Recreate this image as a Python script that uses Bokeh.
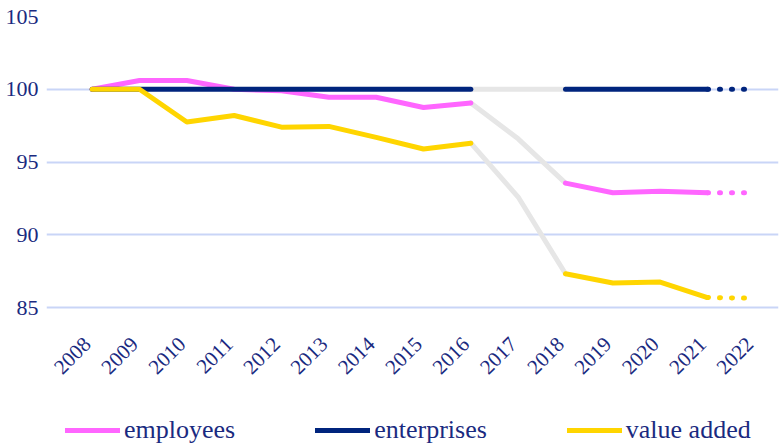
import math
from bokeh.plotting import figure
from bokeh.models import Range1d, Legend, LegendItem, FixedTicker, ColumnDataSource
from bokeh.core.properties import value
from bokeh.embed import file_html
from bokeh.resources import INLINE

# ---- data ----
years = [2008, 2009, 2010, 2011, 2012, 2013, 2014, 2015, 2016, 2017, 2018, 2019, 2020, 2021, 2022]
year_labels = ["2008", "2009", "2010", "2011", "2012", "2013", "2014", "2015", "2016",
               "2017", "2018", "2019", "2020", "2021", "2022"]
y_ticks = [85, 90, 95, 100, 105]

years_a = [2008, 2009, 2010, 2011, 2012, 2013, 2014, 2015, 2016]
years_gap = [2016, 2017, 2018]
years_b = [2018, 2019, 2020, 2021]
years_proj = [2021, 2022]

employees_a = [100.0, 100.6, 100.6, 100.0, 99.9, 99.45, 99.45, 98.75, 99.06]
employees_gap = [99.06, 96.6, 93.56]
employees_b = [93.56, 92.9, 93.0, 92.9]
employees_proj = [92.9, 92.9]

enterprises_a = [100.0, 100.0, 100.0, 100.0, 100.0, 100.0, 100.0, 100.0, 100.0]
enterprises_gap = [100.0, 100.0, 100.0]
enterprises_b = [100.0, 100.0, 100.0, 100.0]
enterprises_proj = [100.0, 100.0]

value_added_a = [100.0, 100.0, 97.75, 98.2, 97.4, 97.45, 96.7, 95.9, 96.3]
value_added_gap = [96.3, 92.6, 87.33]
value_added_b = [87.33, 86.7, 86.76, 85.7]
value_added_proj = [85.7, 85.65]

# ---- style ----
PINK = "#FF66FF"
NAVY = "#00247D"
YELLOW = "#FFD500"
GRAY = "#E6E6E6"
TEXT = "#1A2A80"
GRID = "#C9D5F7"
FONT = "Liberation Serif"
LW = 5

# frame runs to the bottom of the figure; space below 85 holds the year labels and legend
p = figure(width=780, height=447, output_backend="svg", toolbar_location=None,
           x_range=Range1d(2007.035, 2022.5), y_range=Range1d(75.4, 105),
           x_axis_location=None,
           min_border_left=46, min_border_right=2, min_border_top=16, min_border_bottom=0)
p.outline_line_color = None
p.background_fill_color = "white"
p.border_fill_color = "white"

# gray connectors
for ys in (employees_gap, enterprises_gap, value_added_gap):
    p.line(years_gap, ys, line_color=GRAY, line_width=LW, line_cap="round", line_join="round")

items = []
for name, col, a, b, pr in (("employees", PINK, employees_a, employees_b, employees_proj),
                            ("enterprises", NAVY, enterprises_a, enterprises_b, enterprises_proj),
                            ("value added", YELLOW, value_added_a, value_added_b, value_added_proj)):
    r1 = p.line(years_a, a, line_color=col, line_width=LW, line_cap="round", line_join="round")
    p.line(years_b, b, line_color=col, line_width=LW, line_cap="round", line_join="round")
    p.line(years_proj, pr, line_color=col, line_width=LW, line_cap="round", line_dash="1 11")
    items.append(LegendItem(label=name, renderers=[r1]))

# year labels (category axis), rotated 45 degrees below the lowest gridline
lab_src = ColumnDataSource(dict(x=years, y=[y_ticks[0]] * len(years), t=year_labels))
p.text(x="x", y="y", text="t", source=lab_src, angle=math.pi / 4,
       text_align="right", text_baseline="middle", x_offset=-5, y_offset=33,
       text_font=value(FONT), text_font_size="21px", text_color=TEXT)

# y axis
p.yaxis.ticker = FixedTicker(ticks=y_ticks)
ax = p.yaxis[0]
ax.axis_line_color = None
ax.major_tick_line_color = None
ax.minor_tick_line_color = None
ax.major_label_text_color = TEXT
ax.major_label_text_font = FONT
ax.major_label_text_font_size = "22px"
ax.major_label_standoff = 2

p.xgrid.grid_line_color = None
p.ygrid.ticker = FixedTicker(ticks=y_ticks)
p.ygrid.grid_line_color = GRID
p.ygrid.grid_line_width = 2

legend = Legend(items=items, orientation="horizontal", location=(19, 2),
                label_text_font=FONT, label_text_font_size="26px", label_text_color=TEXT,
                glyph_width=55, label_standoff=4, spacing=80, padding=0, margin=0,
                border_line_color=None, background_fill_alpha=0)
p.add_layout(legend, "center")

open("out.html", "w").write(file_html(p, INLINE))
